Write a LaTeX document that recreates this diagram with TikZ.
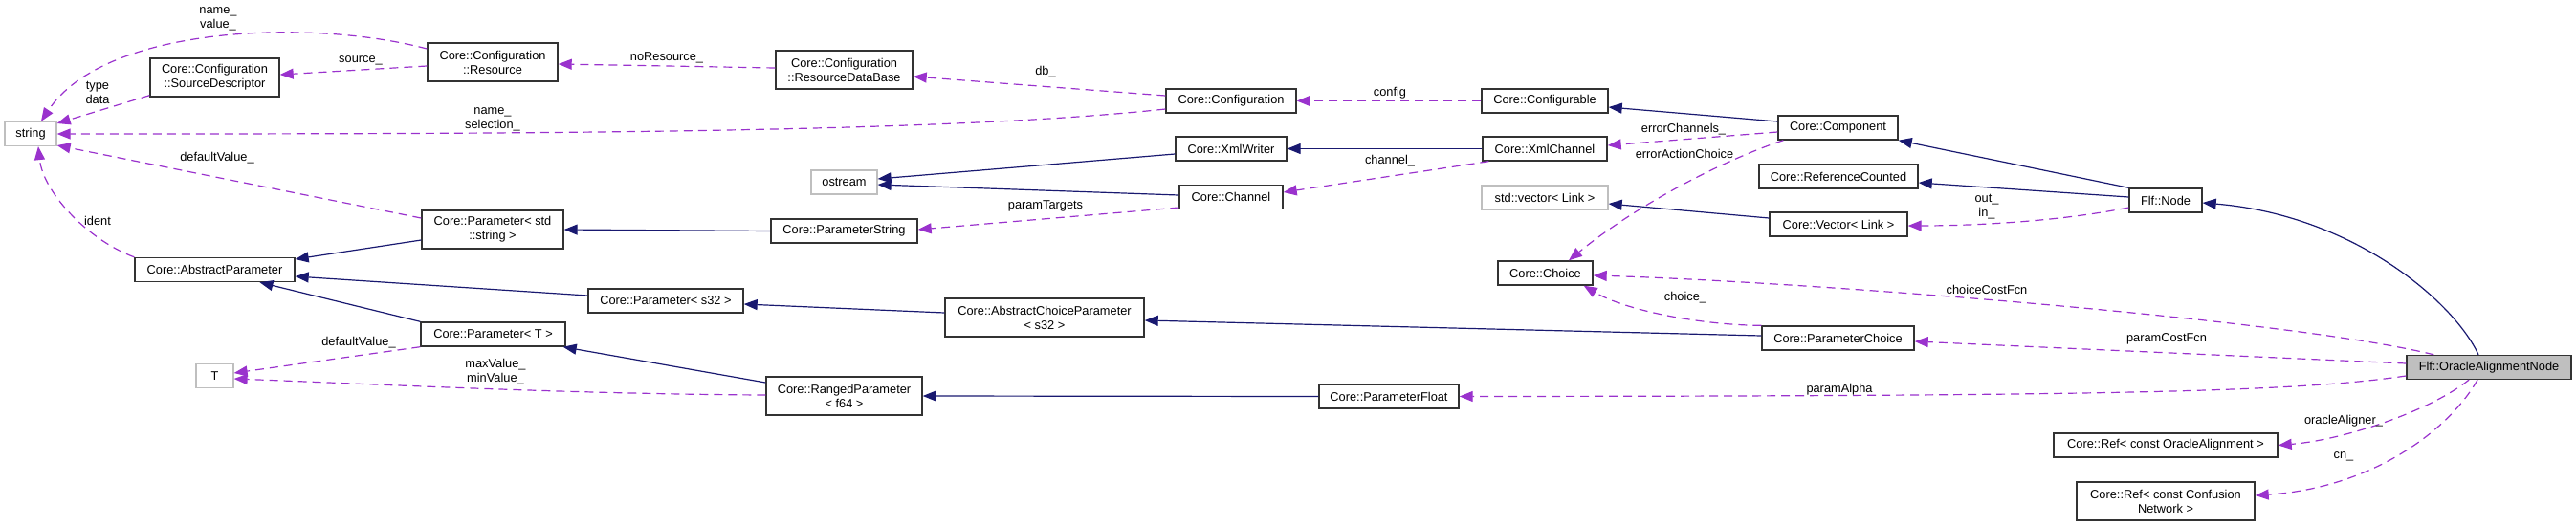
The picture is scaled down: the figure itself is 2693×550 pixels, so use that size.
\documentclass[tikz,border=0pt]{standalone}
\usepackage{fontspec}
\setmainfont{Liberation Sans}
\usetikzlibrary{arrows.meta,calc}
\definecolor{inhblue}{HTML}{191970}
\definecolor{usepurple}{HTML}{9A32CD}
\definecolor{extgray}{HTML}{BFBFBF}

\begin{document}
\begin{tikzpicture}[x=1pt,y=-1pt,
    every node/.style={font=\fontsize{12.8}{15}\selectfont, inner sep=0pt, align=center},
    cls/.style={draw=black!80, line width=1.4pt, minimum height=25pt},
    clstwo/.style={cls, minimum height=40pt},
    ext/.style={draw=extgray, line width=1.3pt, minimum height=25pt},
    inh/.style={color=inhblue, line width=1.2pt, -{Triangle[length=14pt,width=11pt]}},
    usedby/.style={color=usepurple, line width=1.2pt, dash pattern=on 9pt off 6pt, -{Triangle[length=14pt,width=11pt]}}]
    \useasboundingbox (0,0) rectangle (2693,550);
    % classes
    \node[ext, minimum width=54pt] (str) at (32,140) {string};
    \node[clstwo, minimum width=135pt] (sd) at (224.5,81) {Core::Configuration\\::SourceDescriptor};
    \node[clstwo, minimum width=136pt] (res) at (515,65) {Core::Configuration\\::Resource};
    \node[clstwo, minimum width=143pt] (rdb) at (882.5,73) {Core::Configuration\\::ResourceDataBase};
    \node[cls, minimum width=136pt] (cfg) at (1287,105.5) {Core::Configuration};
    \node[cls, minimum width=132pt] (cfgable) at (1615,105.5) {Core::Configurable};
    \node[cls, minimum width=125pt] (comp) at (1921.5,133.5) {Core::Component};
    \node[cls, minimum width=116pt] (xw) at (1287,155.5) {Core::XmlWriter};
    \node[cls, minimum width=130pt] (xc) at (1615,155.5) {Core::XmlChannel};
    \node[ext, minimum width=69pt] (ostr) at (882.5,190.5) {ostream};
    \node[cls, minimum width=108pt] (chan) at (1287,206) {Core::Channel};
    \node[cls, minimum width=153pt] (pstr) at (882.5,241.5) {Core::ParameterString};
    \node[clstwo, minimum width=148pt] (pss) at (515,240) {Core::Parameter< std\\::string >};
    \node[cls, minimum width=167pt] (ap) at (224.5,282) {Core::AbstractParameter};
    \node[cls, minimum width=162pt] (p32) at (696,314.5) {Core::Parameter< s32 >};
    \node[cls, minimum width=151pt] (pt) at (515.5,349.5) {Core::Parameter< T >};
    \node[ext, minimum width=39pt] (tt) at (224.5,393) {T};
    \node[clstwo, minimum width=163pt] (rp) at (882.5,414) {Core::RangedParameter\\< f64 >};
    \node[clstwo, minimum width=208pt] (acp) at (1092,332) {Core::AbstractChoiceParameter\\< s32 >};
    \node[cls, minimum width=146pt] (pf) at (1452,414.5) {Core::ParameterFloat};
    \node[cls, minimum width=166pt] (rc) at (1922,184.5) {Core::ReferenceCounted};
    \node[ext, minimum width=132pt] (sv) at (1615,206.5) {std::vector< Link >};
    \node[cls, minimum width=144pt] (cv) at (1922,234.5) {Core::Vector< Link >};
    \node[cls, minimum width=76pt] (fn) at (2264,209.5) {Flf::Node};
    \node[cls, minimum width=99pt] (ch) at (1615.5,285.5) {Core::Choice};
    \node[cls, minimum width=159pt] (pc) at (1921.5,353.5) {Core::ParameterChoice};
    \node[cls, fill=extgray, minimum width=172pt] (oan) at (2602,384) {Flf::OracleAlignmentNode};
    \node[cls, minimum width=234pt] (roa) at (2264,465.5) {Core::Ref< const OracleAlignment >};
    \node[clstwo, minimum width=186pt] (rcn) at (2264,524) {Core::Ref< const Confusion\\Network >};

    % inheritance
    \draw[inh] ($(comp.west)+(0,-6.5)$) -- ($(cfgable.east)+(0,6.5)$);
    \draw[inh] (xc.west) -- (xw.east);
    \draw[inh] ($(xw.west)+(0,5.5)$) -- ($(ostr.east)+(0,-3.5)$);
    \draw[inh] ($(chan.west)+(0,-2)$) -- ($(ostr.east)+(0,2.5)$);
    \draw[inh] (pstr.west) -- (pss.east);
    \draw[inh] ($(pss.west)+(0,11)$) -- ($(ap.east)+(0,-11)$);
    \draw[inh] ($(p32.west)+(0,-5.5)$) -- ($(ap.east)+(0,7)$);
    \draw[inh] (pt.north west) -- ($(ap.south)+(47,0)$);
    \draw[inh] ($(acp.west)+(0,-5)$) -- ($(p32.east)+(0,3.5)$);
    \draw[inh] ($(rp.west)+(0,-14)$) -- ($(pt.south east)+(-3,0)$);
    \draw[inh] ($(pc.west)+(0,-2.5)$) -- ($(acp.east)+(0,3)$);
    \draw[inh] (pf.west) -- (rp.east);
    \draw[inh] (fn.north west) -- (comp.south east);
    \draw[inh] ($(fn.west)+(0,-3.5)$) -- ($(rc.east)+(0,6.5)$);
    \draw[inh] ($(cv.west)+(0,-6.5)$) -- ($(sv.east)+(0,6.5)$);
    \draw[inh] ($(oan.north)+(-11,0)$) .. controls (2565,315) and (2460,225) .. ($(fn.east)+(0,2.5)$);

    % usage
    \draw[usedby] ($(res.west)+(0,-14)$) .. controls (330,20) and (110,25) .. ($(str.north)+(11,0)$);
    \draw[usedby] ($(res.west)+(0,4)$) -- ($(sd.east)+(0,-3)$);
    \draw[usedby] ($(rdb.west)+(0,-2)$) -- ($(res.east)+(0,2)$);
    \draw[usedby] ($(cfg.west)+(0,-5.5)$) -- ($(rdb.east)+(0,7)$);
    \draw[usedby] ($(cfg.west)+(0,8.5)$) .. controls (980,140) and (500,140) .. (str.east);
    \draw[usedby] ($(sd.south west)+(0,-2)$) -- ($(str.east)+(0,-11)$);
    \draw[usedby] ($(pss.west)+(0,-12)$) -- ($(str.east)+(0,12)$);
    \draw[usedby] (ap.north west) .. controls (90,250) and (45,200) .. ($(str.south)+(8,0)$);
    \draw[usedby] (pt.south west) -- ($(tt.east)+(0,-3)$);
    \draw[usedby] ($(rp.west)+(0,-1)$) .. controls (600,412) and (400,402) .. ($(tt.east)+(0,3)$);
    \draw[usedby] (cfgable.west) -- (cfg.east);
    \draw[usedby] ($(xc.south west)+(7,0)$) -- ($(chan.east)+(0,-5)$);
    \draw[usedby] ($(chan.west)+(0,11)$) -- ($(pstr.east)+(0,-1.5)$);
    \draw[usedby] ($(comp.west)+(0,4.5)$) -- ($(xc.east)+(0,-3.5)$);
    \draw[usedby] ($(comp.south west)+(6,0)$) .. controls (1800,168) and (1710,215) .. ($(ch.north)+(24.5,0)$);
    \draw[usedby] ($(fn.west)+(0,7.5)$) .. controls (2150,232) and (2060,236) .. ($(cv.east)+(0,1.5)$);
    \draw[usedby] ($(oan.north west)+(29,0)$) .. controls (2400,335) and (1900,295) .. ($(ch.east)+(0,2.5)$);
    \draw[usedby] (pc.north west) .. controls (1780,340) and (1700,325) .. ($(ch.south east)+(-10,0)$);
    \draw[usedby] ($(oan.west)+(0,-4)$) -- ($(pc.east)+(0,3.5)$);
    \draw[usedby] ($(oan.west)+(0,9)$) .. controls (2400,410) and (2200,414) .. (pf.east);
    \draw[usedby] ($(oan.south)+(-21,0)$) .. controls (2540,430) and (2450,460) .. (roa.east);
    \draw[usedby] ($(oan.south)+(-12,0)$) .. controls (2560,450) and (2480,510) .. ($(rcn.east)+(0,-6)$);

    % member labels
    \node (l-namevalue) at (228,19.5) {name\_\\value\_};
    \node (l-source) at (377,63) {source\_};
    \node (l-nores) at (697,60) {noResource\_};
    \node (l-db) at (1093,75) {db\_};
    \node (l-namesel) at (515,124.5) {name\_\\selection\_};
    \node (l-typedata) at (102,96.5) {type\\data};
    \node (l-defstr) at (227,165) {defaultValue\_};
    \node (l-ident) at (102,231) {ident};
    \node (l-deft) at (375,358) {defaultValue\_};
    \node (l-maxmin) at (518,388.5) {maxValue\_\\minValue\_};
    \node (l-config) at (1453,97) {config};
    \node (l-channel) at (1453,168) {channel\_};
    \node (l-targets) at (1093,215) {paramTargets};
    \node (l-errch) at (1760,135) {errorChannels\_};
    \node (l-erract) at (1761,161) {errorActionChoice};
    \node (l-outin) at (2077,216.5) {out\_\\in\_};
    \node (l-ccf) at (2077,303) {choiceCostFcn};
    \node (l-choice) at (1762,311) {choice\_};
    \node (l-pcf) at (2265,354) {paramCostFcn};
    \node (l-alpha) at (1923,407) {paramAlpha};
    \node (l-oracle) at (2450,440) {oracleAligner\_};
    \node (l-cn) at (2450,477) {cn\_};
\end{tikzpicture}
\end{document}
